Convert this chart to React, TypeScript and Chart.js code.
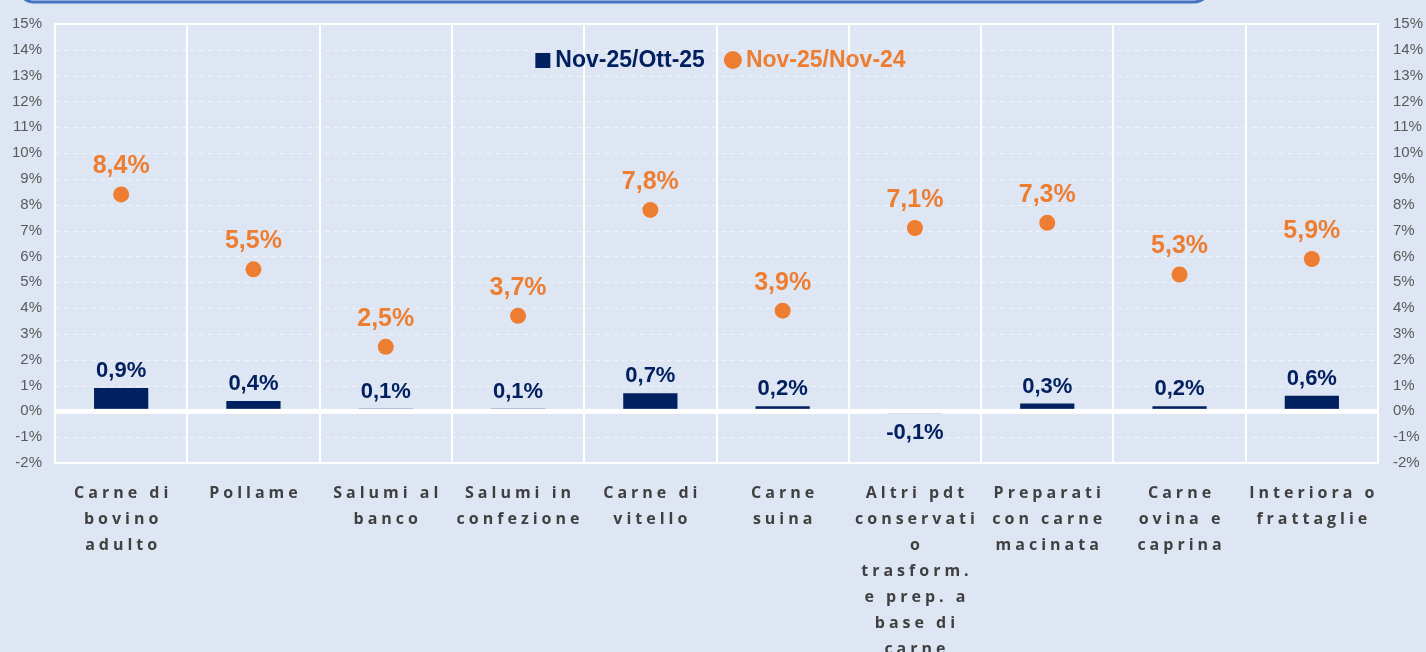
import { useEffect, useRef } from 'react';
import { Chart, registerables } from 'chart.js';

Chart.register(...registerables);

const categories: string[][] = [
  ['Carne di', 'bovino', 'adulto'],
  ['Pollame'],
  ['Salumi al', 'banco'],
  ['Salumi in', 'confezione'],
  ['Carne di', 'vitello'],
  ['Carne', 'suina'],
  ['Altri pdt', 'conservati', 'o', 'trasform.', 'e prep. a', 'base di', 'carne'],
  ['Preparati', 'con carne', 'macinata'],
  ['Carne', 'ovina e', 'caprina'],
  ['Interiora o', 'frattaglie'],
];
const seriesNames = ['Nov-25/Ott-25', 'Nov-25/Nov-24'];
const monthlyChange = [0.9, 0.4, 0.1, 0.1, 0.7, 0.2, -0.1, 0.3, 0.2, 0.6];
const yearlyChange = [8.4, 5.5, 2.5, 3.7, 7.8, 3.9, 7.1, 7.3, 5.3, 5.9];
const yMin = -2;
const yMax = 15;

const NAVY = '#002060';
const ORANGE = '#ED7D31';
const BG = '#DFE6F3';
const ARIAL = 'Arial, "Liberation Sans", sans-serif';

const fmt = (v: number) => v.toFixed(1).replace('.', ',') + '%';

export default function App() {
  const ref = useRef<HTMLCanvasElement>(null);
  useEffect(() => {
    document.body.style.margin = '0';
    const canvas = ref.current!;
    const custom = {
      id: 'custom',
      beforeDraw(chart: any) {
        const ctx = chart.ctx;
        ctx.save();
        ctx.fillStyle = BG;
        ctx.fillRect(0, 0, chart.width, chart.height);
        ctx.strokeStyle = '#4472C4';
        ctx.lineWidth = 3;
        ctx.beginPath();
        (ctx as any).roundRect(18, -40, 1192, 42, 16);
        ctx.stroke();
        ctx.restore();
      },
      beforeDatasetsDraw(chart: any) {
        const ctx = chart.ctx;
        const { left, right, top, bottom } = chart.chartArea;
        const y = chart.scales.y;
        ctx.save();
        ctx.strokeStyle = 'rgba(255,255,255,0.5)';
        ctx.lineWidth = 1;
        ctx.setLineDash([5, 4]);
        for (let v = yMin + 1; v < yMax; v++) {
          const py = Math.round(y.getPixelForValue(v)) + 0.5;
          ctx.beginPath();
          ctx.moveTo(left, py);
          ctx.lineTo(right, py);
          ctx.stroke();
        }
        ctx.setLineDash([]);
        ctx.strokeStyle = '#FFFFFF';
        ctx.lineWidth = 2;
        ctx.strokeRect(left, top, right - left, bottom - top);
        ctx.restore();
      },
      afterDatasetsDraw(chart: any) {
        const ctx = chart.ctx;
        const { left, right, bottom } = chart.chartArea;
        const y = chart.scales.y;
        const xs = chart.scales.x;
        const y0 = y.getPixelForValue(0);
        ctx.save();
        ctx.fillStyle = '#FFFFFF';
        ctx.fillRect(left, y0 - 2.5, right - left, 5);

        // bar labels
        ctx.textAlign = 'center';
        ctx.font = `bold 22px ${ARIAL}`;
        ctx.fillStyle = NAVY;
        chart.getDatasetMeta(0).data.forEach((el: any, i: number) => {
          const v = monthlyChange[i];
          if (v >= 0) {
            ctx.textBaseline = 'alphabetic';
            ctx.fillText(fmt(v), el.x, Math.min(el.y, y0 - 2.5) - 11);
          } else {
            ctx.textBaseline = 'top';
            ctx.fillText(fmt(v), el.x, Math.max(el.y, y0 + 2.5) + 8);
          }
        });
        // point labels
        ctx.font = `bold 25px ${ARIAL}`;
        ctx.fillStyle = ORANGE;
        ctx.textBaseline = 'alphabetic';
        chart.getDatasetMeta(1).data.forEach((el: any, i: number) => {
          ctx.fillText(fmt(yearlyChange[i]), el.x, el.y - 21);
        });

        // legend
        ctx.font = `bold 23px ${ARIAL}`;
        const w0 = ctx.measureText(seriesNames[0]).width;
        const w1 = ctx.measureText(seriesNames[1]).width;
        const total = 15 + 5 + w0 + 19 + 18 + 4 + w1;
        let lx = (left + right) / 2 + 4 - total / 2;
        const ly = 60;
        ctx.textAlign = 'left';
        ctx.textBaseline = 'middle';
        ctx.fillStyle = NAVY;
        ctx.fillRect(lx, ly - 7, 15, 15);
        lx += 20;
        ctx.fillText(seriesNames[0], lx, ly + 1);
        lx += w0 + 19;
        ctx.fillStyle = ORANGE;
        ctx.beginPath();
        ctx.arc(lx + 9, ly, 9, 0, Math.PI * 2);
        ctx.fill();
        lx += 22;
        ctx.fillText(seriesNames[1], lx, ly + 1);

        // x labels
        ctx.font = `bold 16px "Open Sans", sans-serif`;
        (ctx as any).letterSpacing = '4px';
        ctx.fillStyle = '#404040';
        ctx.textAlign = 'center';
        ctx.textBaseline = 'alphabetic';
        categories.forEach((lines, i) => {
          const cx = xs.getPixelForValue(i) + 2;
          lines.forEach((ln, j) => {
            ctx.fillText(ln, cx, bottom + 35 + j * 26);
          });
        });
        (ctx as any).letterSpacing = '0px';
        ctx.restore();
      },
    };

    const yTickOpts = (pad: number) => ({
      stepSize: 1,
      callback: (v: any) => `${v}%`,
      color: '#595959',
      font: { family: ARIAL, size: 15 },
      padding: pad,
    });

    const chart = new Chart(canvas, {
      type: 'bar',
      data: {
        labels: categories.map((c) => c.join(' ')),
        datasets: [
          {
            type: 'bar',
            label: seriesNames[0],
            data: monthlyChange,
            backgroundColor: NAVY,
            categoryPercentage: 1,
            barPercentage: 0.41,
            yAxisID: 'y',
            order: 2,
          },
          {
            type: 'line',
            label: seriesNames[1],
            data: yearlyChange,
            showLine: false,
            pointRadius: 8,
            pointBorderWidth: 0,
            pointBackgroundColor: ORANGE,
            borderColor: ORANGE,
            yAxisID: 'y',
            order: 1,
          },
        ],
      } as any,
      options: {
        responsive: false,
        devicePixelRatio: 1,
        animation: false,
        layout: { padding: { top: 23, left: 0, right: 0, bottom: 0 } },
        plugins: { legend: { display: false }, tooltip: { enabled: false } },
        scales: {
          x: {
            offset: true,
            grid: { color: '#FFFFFF', lineWidth: 2, offset: true, drawTicks: false },
            border: { display: false },
            ticks: { display: false },
            afterFit: (s: any) => {
              s.height = 189;
            },
          },
          y: {
            position: 'left',
            min: yMin,
            max: yMax,
            ticks: yTickOpts(13),
            grid: { display: false, drawTicks: false },
            border: { display: false },
            afterFit: (s: any) => {
              s.width = 55;
            },
          },
          y2: {
            position: 'right',
            min: yMin,
            max: yMax,
            ticks: yTickOpts(15),
            grid: { display: false, drawTicks: false },
            border: { display: false },
            afterFit: (s: any) => {
              s.width = 48;
            },
          },
        },
      } as any,
      plugins: [custom],
    });
    return () => chart.destroy();
  }, []);
  return (
    <canvas
      ref={ref}
      width={1426}
      height={652}
      style={{ display: 'block', width: 1426, height: 652 }}
    />
  );
}
